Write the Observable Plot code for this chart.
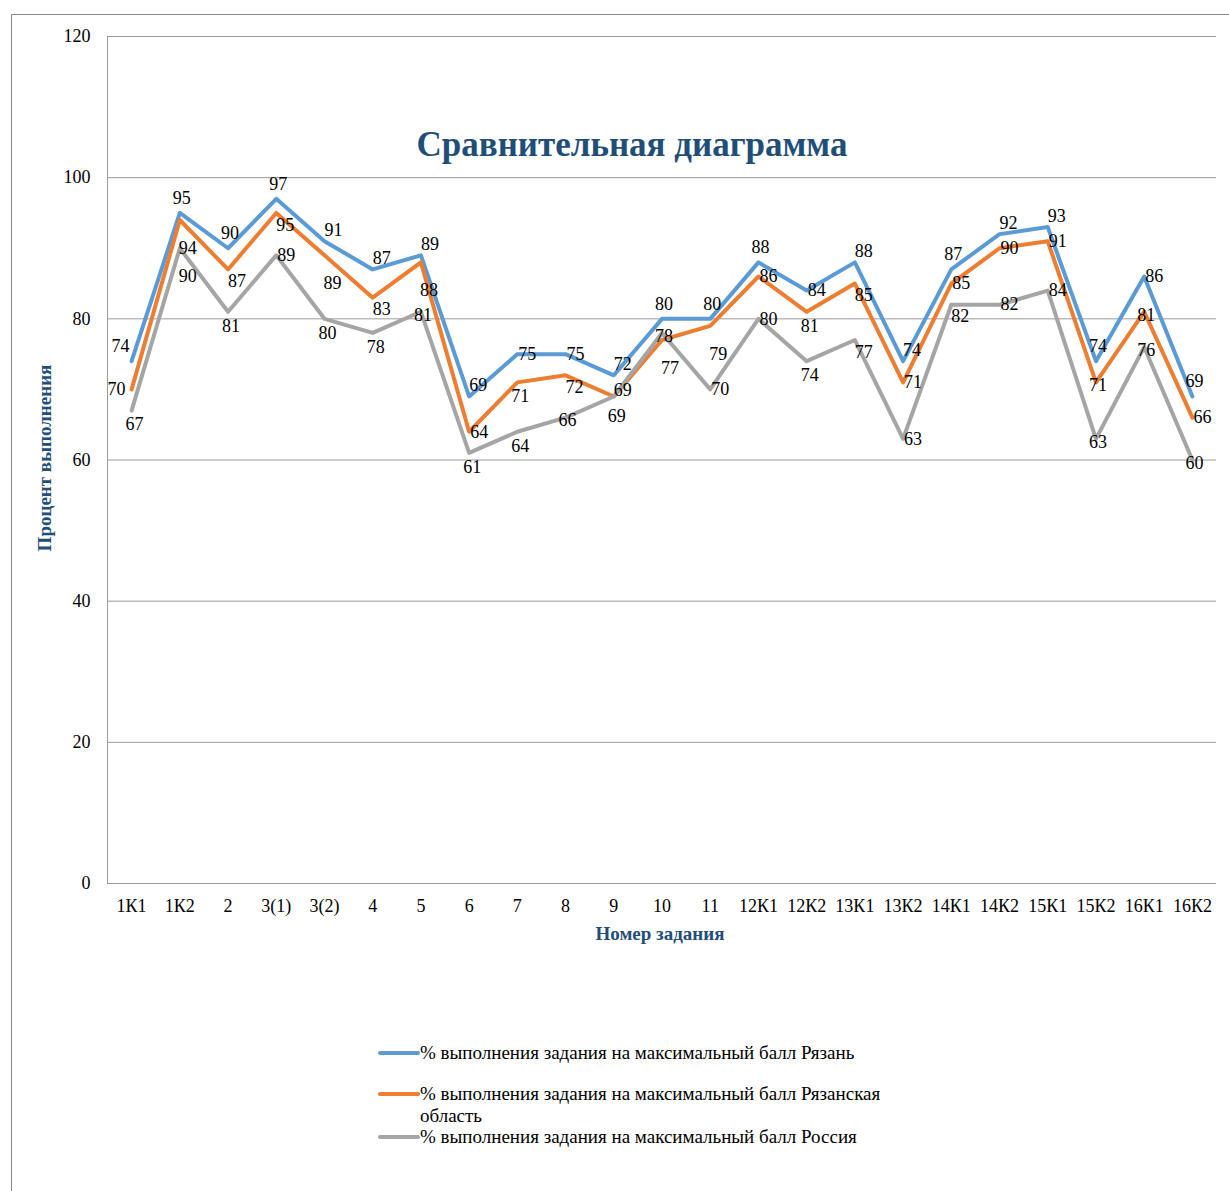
<!DOCTYPE html>
<html>
<head>
<meta charset="utf-8">
<script src="https://cdn.jsdelivr.net/npm/d3@7"></script>
<script src="https://cdn.jsdelivr.net/npm/@observablehq/plot@0.6"></script>
<style>
  html, body { margin: 0; padding: 0; background: #fff; overflow: hidden; }
  #wrap { position: relative; width: 1229px; height: 1191px; overflow: hidden; font-family: "Liberation Serif", "Times New Roman", Tinos, "Noto Serif", "Nimbus Roman", FreeSerif, "DejaVu Serif", serif; }
  #border { position: absolute; left: 11px; top: 14px; width: 1400px; height: 1400px; border: 1px solid #8a8a8a; box-sizing: border-box; }
  #chart { position: absolute; left: 0; top: 0; }
  .title { position: absolute; left: 0; width: 1264px; top: 121px; text-align: center; font-weight: bold; font-size: 35px; color: #1F4E79; line-height: 48px; }
  .xtitle { position: absolute; left: 460px; width: 400px; top: 921px; text-align: center; font-weight: bold; font-size: 19px; color: #1F4E79; line-height: 26px; }
  .ytitle { position: absolute; left: 45px; top: 458px; transform: translate(-50%, -50%) rotate(-90deg); white-space: nowrap; font-weight: bold; font-size: 19px; color: #1F4E79; line-height: 26px; }
  .leg { position: absolute; left: 378px; display: flex; align-items: flex-start; font-size: 19px; line-height: 22px; color: #000; }
  .leg .sw { width: 42px; height: 4px; border-radius: 2px; margin-top: 9px; flex: none; }
  .leg .tx { max-width: 482px; }
</style>
</head>
<body>
<div id="wrap">
  <div id="border"></div>
  <div id="chart"></div>
</div>
<script>
// ---- data ----
const tasks = ["1К1","1К2","2","3(1)","3(2)","4","5","6","7","8","9","10","11","12К1","12К2","13К1","13К2","14К1","14К2","15К1","15К2","16К1","16К2"];
const seriesNames = [
  "% выполнения задания на максимальный балл Рязань",
  "% выполнения задания на максимальный балл Рязанская область",
  "% выполнения задания на максимальный балл Россия"
];
const ryazan  = [74,95,90,97,91,87,89,69,75,75,72,80,80,88,84,88,74,87,92,93,74,86,69];
const oblast  = [70,94,87,95,89,83,88,64,71,72,69,77,79,86,81,85,71,85,90,91,71,81,66];
const russia  = [67,90,81,89,80,78,81,61,64,66,69,78,70,80,74,77,63,82,82,84,63,76,60];
const yTicks = [0,20,40,60,80,100,120];

// ---- style: colours and data-label placement codes ----
const colors = ["#5B9BD5", "#ED7D31", "#A5A5A5"];
const placeRyazan = ["tl","t","t","t","tr","tr","tr","tr","r","r","tr","t","t","t","r","tr","tr","t","tr","tr","t","r","t"];
const placeOblast = ["l","bb","br","br","bb","br","bb","r","b","br","rt","bb","bb","r","b","br","r","r","r","r","c","c","r"];
const placeRussia = ["b","bb","b","r","b","b","c","b","b","c","b2","c","r","r","b","br","r","br","r","r","c","c","c"];
const offsets = {c:[2,3], t:[2,-15], tr:[9,-11], rt:[9,-6], tl:[-11,-15], r:[10,0], br:[9,12], b:[3,14], b2:[3,20], bb:[8,28], l:[-15,0]};

const serif = "'Liberation Serif', 'Times New Roman', Tinos, 'Noto Serif', 'Nimbus Roman', FreeSerif, 'DejaVu Serif', serif";

const valueSets = [ryazan, oblast, russia];
const placeSets = [placeRyazan, placeOblast, placeRussia];
const rows = [];
valueSets.forEach((vals, s) => vals.forEach((v, i) => rows.push({task: tasks[i], series: seriesNames[s], s, value: v, pos: placeSets[s][i]})));

const labelMarks = [];
for (let s = 0; s < 3; s++) {
  for (const code of Object.keys(offsets)) {
    const sub = rows.filter(d => d.s === s && d.pos === code);
    if (!sub.length) continue;
    labelMarks.push(Plot.text(sub, {x: "task", y: "value", text: d => String(d.value), dx: offsets[code][0], dy: offsets[code][1], fontFamily: serif, fontSize: 18, fill: "#000"}));
  }
}

const chart = Plot.plot({
  width: 1229,
  height: 950,
  marginTop: 36,
  marginLeft: 107,
  marginRight: 13,
  marginBottom: 67,
  style: {background: "transparent", fontFamily: serif, fontSize: "18px", color: "#000", overflow: "visible"},
  x: {type: "point", domain: tasks, padding: 0.5, align: 0.5, round: false},
  y: {domain: [0, 120]},
  marks: [
    Plot.gridY(yTicks, {stroke: "#9a9a9a", strokeOpacity: 1}),
    Plot.frame({anchor: "left", stroke: "#9a9a9a"}),
    Plot.axisY(yTicks, {tickSize: 0, tickPadding: 17, label: null, fontSize: 18, fontFamily: serif, fill: "#000"}),
    Plot.axisX({tickSize: 0, tickPadding: 16, label: null, fontSize: 18, fontFamily: serif, fill: "#000"}),
    ...[0,1,2].map(s => Plot.line(rows.filter(d => d.s === s), {x: "task", y: "value", stroke: colors[s], strokeWidth: 4, strokeLinejoin: "round", strokeLinecap: "round"})),
    ...labelMarks
  ]
});
document.getElementById("chart").appendChild(chart);

const wrap = document.getElementById("wrap");
function addDiv(cls, text) {
  const d = document.createElement("div");
  d.className = cls;
  d.textContent = text;
  wrap.appendChild(d);
  return d;
}
addDiv("title", "Сравнительная диаграмма");
addDiv("xtitle", "Номер задания");
addDiv("ytitle", "Процент выполнения");

const legendTops = [1042, 1083, 1126];
seriesNames.forEach((name, s) => {
  const item = document.createElement("div");
  item.className = "leg";
  item.style.top = legendTops[s] + "px";
  const sw = document.createElement("div");
  sw.className = "sw";
  sw.style.background = colors[s];
  const tx = document.createElement("div");
  tx.className = "tx";
  tx.textContent = name;
  item.appendChild(sw);
  item.appendChild(tx);
  wrap.appendChild(item);
});
</script>
</body>
</html>
